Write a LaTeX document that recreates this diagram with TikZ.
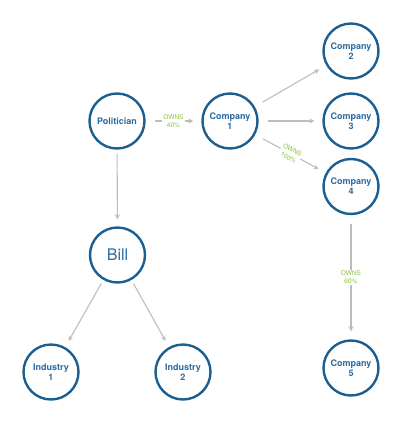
\documentclass[tikz,border=0pt]{standalone}
\usepackage{fontspec}
\setmainfont{TeX Gyre Heros}
\usetikzlibrary{arrows.meta,positioning}
\definecolor{netBlue}{HTML}{1B5E91}
\definecolor{netText}{HTML}{2A6BA0}
\definecolor{netGrey}{HTML}{BDBDBD}
\definecolor{netGreen}{HTML}{8CC63F}
\tikzset{
  >={Stealth[length=5pt,width=5pt]},
  entity/.style={circle, draw=netBlue, line width=2.4pt, fill=white,
              minimum size=55pt, inner sep=0pt, align=center, text=netText,
              font=\fontsize{9}{10}\selectfont\bfseries},
  bigentity/.style={entity, font=\fontsize{16}{18}\selectfont},
  link/.style={->, draw=netGrey, line width=1.1pt, shorten <=4pt, shorten >=7pt},
  farlink/.style={link, shorten <=9pt, shorten >=8pt},
  owns/.style={fill=white, inner sep=1pt, align=center, text=netGreen,
              font=\fontsize{6.5}{8.5}\selectfont},
}

\begin{document}
\begin{tikzpicture}[x=1pt,y=-1pt]
  \useasboundingbox (0,0) rectangle (401,437);
  % people and law
  \node[entity] (pol) at (117,121) {Politician};
  \node[bigentity] (bill) at (117.5,255) {Bill};
  \node[entity] (ind1) at (51,372) {Industry\\1};
  \node[entity] (ind2) at (183,372) {Industry\\2};
  % companies
  \node[entity] (c1) at (230,121) {Company\\1};
  \foreach \n/\y in {2/51,3/121,4/186.5,5/368}{
    \node[entity] (c\n) at (351,\y) {Company\\\n};
  }
  % ownership
  \draw[farlink] (pol) -- node[owns] {OWNS\\40\%} (c1);
  \draw[farlink] (c1) -- (c2);
  \draw[farlink] (c1) -- (c3);
  \draw[farlink] (c1) -- node[owns,sloped] {OWNS\\100\%} (c4);
  \draw[farlink] (c4) -- node[owns] {OWNS\\60\%} (c5);
  % influence
  \draw[link] (pol) -- (bill);
  \draw[link] (bill) -- (ind1);
  \draw[link] (bill) -- (ind2);
\end{tikzpicture}
\end{document}
